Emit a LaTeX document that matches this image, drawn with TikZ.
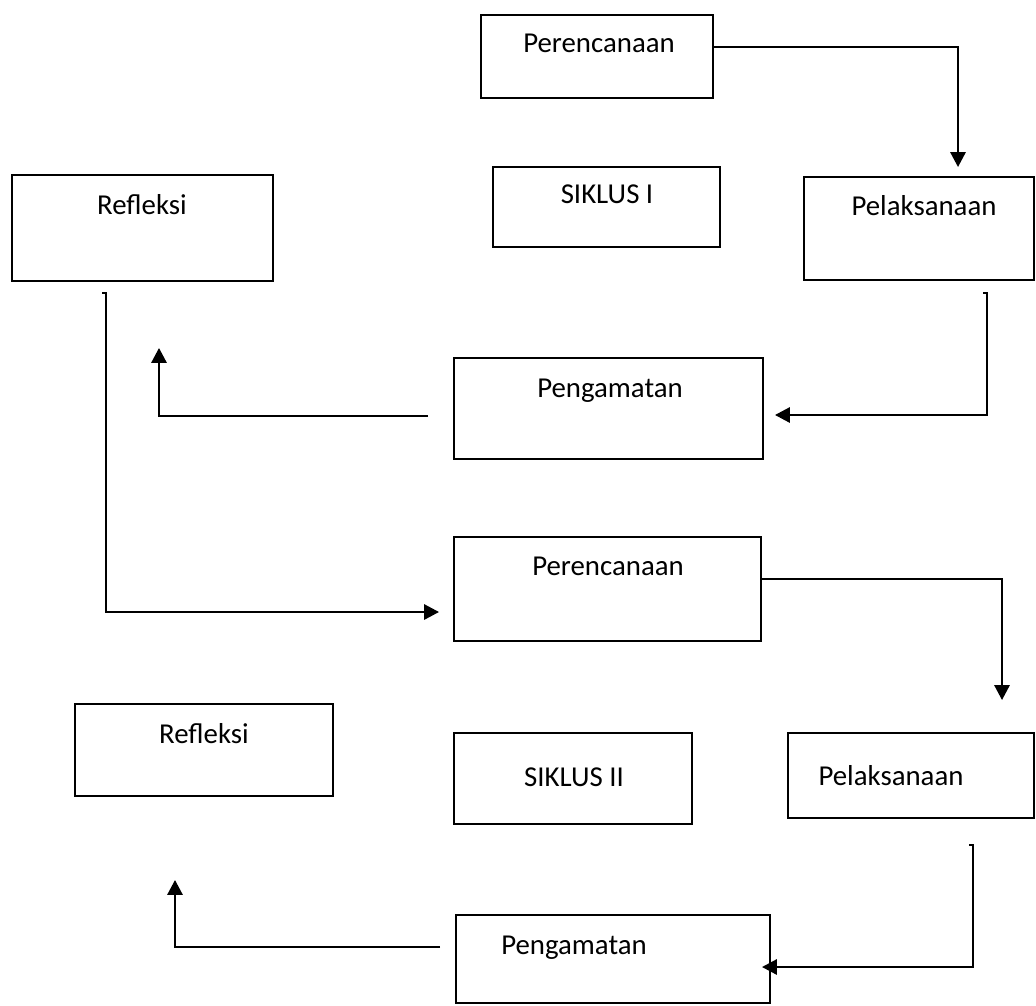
\documentclass[tikz,border=0pt]{standalone}
\usepackage{fontspec}
\setmainfont{Carlito}
\usetikzlibrary{arrows.meta,fit}

\tikzset{
  kotak/.style={draw, line width=1.3pt, inner sep=0pt},
  teks/.style={anchor=base, font=\fontsize{20.5}{24}\selectfont},
  panah/.style={line width=1.4pt, -{Triangle[length=0.37cm,width=0.38cm]}}
}

\begin{document}
\begin{tikzpicture}[x=0.025cm, y=-0.025cm]
  \useasboundingbox (0,0) rectangle (1036,1005);

  % Boxes (pixel corners)
  \foreach \nama/\xa/\ya/\xb/\yb in {
      rencanaA/481/15/713/98, siklusA/493/167/720/247,
      laksanaA/804/177/1034/280, refleksiA/12/175/273/281,
      amatA/454/358/763/459,
      rencanaB/454/537/761/641, refleksiB/75/704/333/796,
      siklusB/454/733/692/824, laksanaB/788/733/1034/818,
      amatB/456/915/770/1003} {
    \node[kotak, fit={(\xa,\ya) (\xb,\yb)}] (\nama) {};
  }

  % Labels (baseline positions)
  \node[teks] (t-rencanaA) at (599,53) {Perencanaan};
  \node[teks] (t-siklusA) at (607,203) {SIKLUS I};
  \node[teks] (t-laksanaA) at (924,215) {Pelaksanaan};
  \node[teks] (t-refleksiA) at (142,214) {Refleksi};
  \node[teks] (t-amatA) at (610,397) {Pengamatan};
  \node[teks] (t-rencanaB) at (608,575) {Perencanaan};
  \node[teks] (t-refleksiB) at (204,743) {Refleksi};
  \node[teks] (t-siklusB) at (574,786) {SIKLUS II};
  \node[teks] (t-laksanaB) at (891,785) {Pelaksanaan};
  \node[teks] (t-amatB) at (574,954) {Pengamatan};

  % Free ends of the connectors
  \coordinate (ujungA) at (958,167);
  \coordinate (mulaiB) at (983,293);
  \coordinate (ujungB) at (775,415);
  \coordinate (mulaiC) at (428,416);
  \coordinate (ujungC) at (159,348);
  \coordinate (mulaiD) at (102,293);
  \coordinate (ujungD) at (439,612);
  \coordinate (ujungE) at (1002,700);
  \coordinate (mulaiF) at (969,845);
  \coordinate (ujungF) at (762,967);
  \coordinate (mulaiG) at (440,947);
  \coordinate (ujungG) at (175,880);

  % Siklus I
  \draw[panah] ([yshift=0.24cm]rencanaA.east) -| (ujungA);
  \draw[panah] (mulaiB) -- ++(4,0) |- (ujungB);
  \draw[panah] (mulaiC) -| (ujungC);
  \draw[panah] (mulaiD) -- ++(4,0) |- (ujungD);

  % Siklus II
  \draw[panah] ([yshift=0.24cm]rencanaB.east) -| (ujungE);
  \draw[panah] (mulaiF) -- ++(4,0) |- (ujungF);
  \draw[panah] (mulaiG) -| (ujungG);
\end{tikzpicture}
\end{document}
